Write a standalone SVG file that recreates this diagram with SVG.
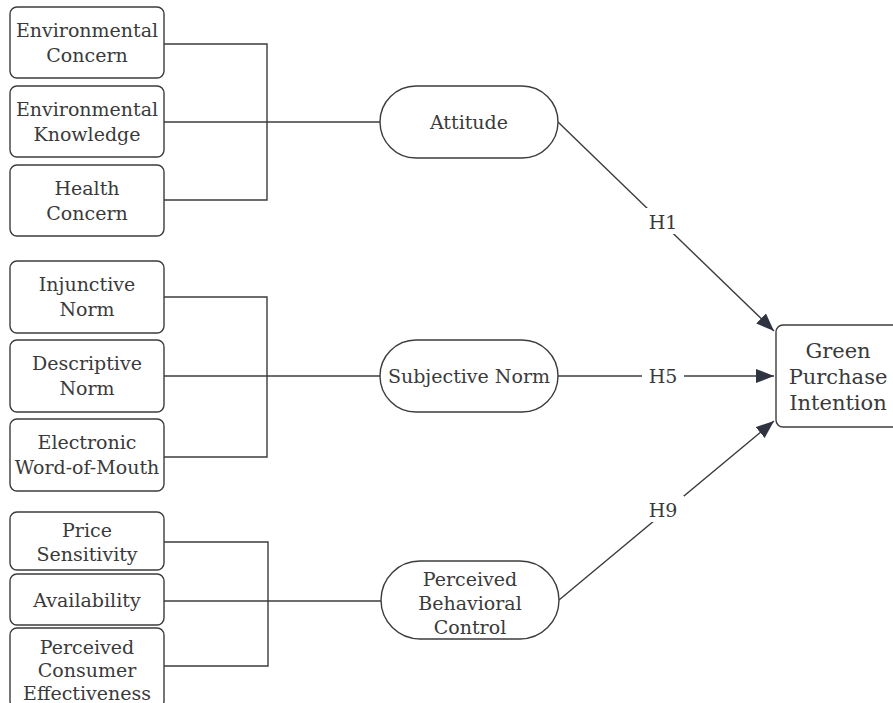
<svg xmlns="http://www.w3.org/2000/svg" width="893" height="703" viewBox="0 0 893 703">
  <style>
    .box { fill: #ffffff; stroke: #3c3c3c; stroke-width: 1.4; }
    .lbl { font-family: "DejaVu Serif", "Liberation Serif", serif; font-size: 19px; fill: #3a3a3a; text-anchor: middle; }
    .big { font-size: 21px; }
    .wire { fill: none; stroke: #3c3c3c; stroke-width: 1.4; }
    .tag { fill: #ffffff; stroke: none; }
  </style>
  <defs>
    <marker id="arrow" markerUnits="userSpaceOnUse" markerWidth="20" markerHeight="16" refX="18" refY="7" orient="auto">
      <path d="M0,0 L18,7 L0,14 z" fill="#2f3340"/>
    </marker>
  </defs>
  <rect width="893" height="703" fill="#ffffff"/>

  <g id="connectors">
    <!-- attitude antecedents -->
    <path class="wire" d="M164,44 H267 V200 H164"/>
    <path class="wire" d="M164,122 H380"/>
    <!-- subjective norm antecedents -->
    <path class="wire" d="M164,297 H267 V457 H164"/>
    <path class="wire" d="M164,376 H380"/>
    <!-- perceived behavioral control antecedents -->
    <path class="wire" d="M164,542 H268 V666 H164"/>
    <path class="wire" d="M164,601 H381"/>
    <!-- hypothesised paths -->
    <path class="wire" d="M558,122 L774,331" marker-end="url(#arrow)"/>
    <path class="wire" d="M558,376 L774,376" marker-end="url(#arrow)"/>
    <path class="wire" d="M559,600 L774,421" marker-end="url(#arrow)"/>
    <rect class="tag" x="642" y="208" width="42" height="26"/>
    <text class="lbl" x="663" y="229">H1</text>
    <rect class="tag" x="642" y="363" width="42" height="26"/>
    <text class="lbl" x="663" y="383">H5</text>
    <rect class="tag" x="642" y="496" width="42" height="26"/>
    <text class="lbl" x="663" y="517">H9</text>
  </g>

  <g id="environmental-concern">
    <rect class="box" x="10" y="7" width="154" height="71" rx="7"/>
    <text class="lbl" x="87" y="37">Environmental</text>
    <text class="lbl" x="87" y="62">Concern</text>
  </g>
  <g id="environmental-knowledge">
    <rect class="box" x="10" y="86" width="154" height="71" rx="7"/>
    <text class="lbl" x="87" y="116">Environmental</text>
    <text class="lbl" x="87" y="141">Knowledge</text>
  </g>
  <g id="health-concern">
    <rect class="box" x="10" y="165" width="154" height="71" rx="7"/>
    <text class="lbl" x="87" y="195">Health</text>
    <text class="lbl" x="87" y="220">Concern</text>
  </g>

  <g id="injunctive-norm">
    <rect class="box" x="10" y="261" width="154" height="72" rx="7"/>
    <text class="lbl" x="87" y="291">Injunctive</text>
    <text class="lbl" x="87" y="316">Norm</text>
  </g>
  <g id="descriptive-norm">
    <rect class="box" x="10" y="340" width="154" height="72" rx="7"/>
    <text class="lbl" x="87" y="370">Descriptive</text>
    <text class="lbl" x="87" y="395">Norm</text>
  </g>
  <g id="electronic-wom">
    <rect class="box" x="10" y="419" width="154" height="72" rx="7"/>
    <text class="lbl" x="87" y="449">Electronic</text>
    <text class="lbl" x="87" y="474">Word-of-Mouth</text>
  </g>

  <g id="price-sensitivity">
    <rect class="box" x="10" y="512" width="154" height="58" rx="7"/>
    <text class="lbl" x="87" y="537">Price</text>
    <text class="lbl" x="87" y="561">Sensitivity</text>
  </g>
  <g id="availability">
    <rect class="box" x="10" y="574" width="154" height="51" rx="7"/>
    <text class="lbl" x="87" y="607">Availability</text>
  </g>
  <g id="perceived-consumer-effectiveness">
    <rect class="box" x="10" y="628" width="154" height="80" rx="7"/>
    <text class="lbl" x="87" y="654">Perceived</text>
    <text class="lbl" x="87" y="677">Consumer</text>
    <text class="lbl" x="87" y="700">Effectiveness</text>
  </g>

  <g id="attitude">
    <rect class="box" x="380" y="86" width="178" height="72" rx="36"/>
    <text class="lbl" x="469" y="129">Attitude</text>
  </g>
  <g id="subjective-norm">
    <rect class="box" x="380" y="340" width="178" height="72" rx="36"/>
    <text class="lbl" x="469" y="383">Subjective Norm</text>
  </g>
  <g id="perceived-behavioral-control">
    <rect class="box" x="381" y="561" width="178" height="78" rx="39"/>
    <text class="lbl" x="470" y="586">Perceived</text>
    <text class="lbl" x="470" y="610">Behavioral</text>
    <text class="lbl" x="470" y="634">Control</text>
  </g>

  <g id="green-purchase-intention">
    <rect class="box" x="776" y="325" width="130" height="102" rx="7"/>
    <text class="lbl big" x="838" y="358">Green</text>
    <text class="lbl big" x="838" y="384">Purchase</text>
    <text class="lbl big" x="838" y="410">Intention</text>
  </g>
</svg>
